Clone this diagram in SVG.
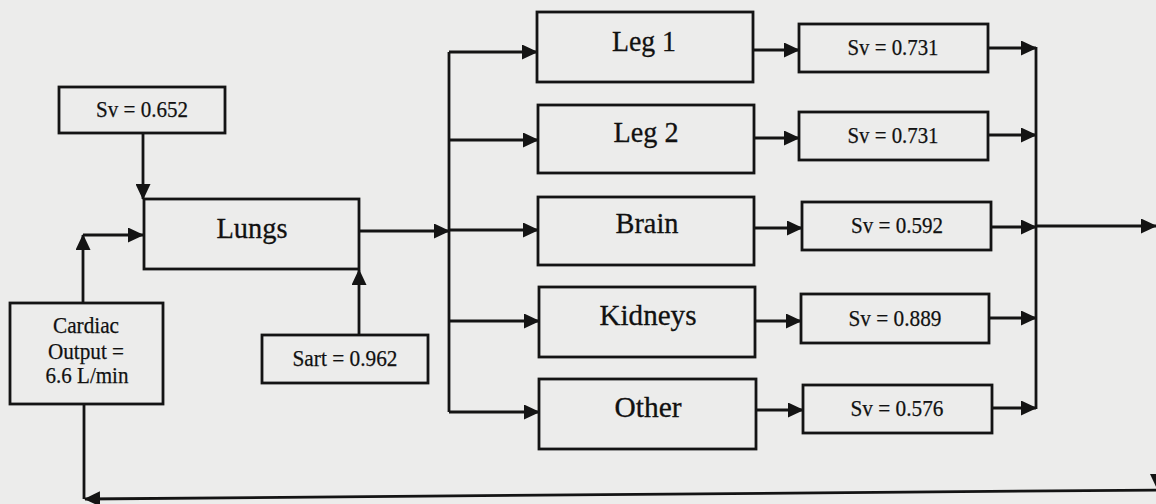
<svg xmlns="http://www.w3.org/2000/svg" width="1156" height="504" viewBox="0 0 1156 504">
  <style>
    .box { fill: none; stroke: #141414; stroke-width: 2.8; }
    .wire { fill: none; stroke: #141414; stroke-width: 2.8; }
    .big { font-family: "Liberation Serif", "Times New Roman", serif; font-size: 29.5px; fill: #111; stroke: #111; stroke-width: 0.3; text-anchor: middle; }
    .small { font-family: "Liberation Serif", "Times New Roman", serif; font-size: 23.5px; fill: #111; stroke: #111; stroke-width: 0.25; text-anchor: middle; }
  </style>
  <defs>
    <marker id="arr" viewBox="0 0 16 15" refX="15" refY="7.5" markerWidth="16" markerHeight="15" orient="auto" markerUnits="userSpaceOnUse">
      <path d="M0,0 L16,7.5 L0,15 z" fill="#141414"/>
    </marker>
  </defs>

  <rect width="1156" height="504" fill="#ececeb"/>

  <!-- flow lines -->
  <g id="connectors">
    <path class="wire" d="M143,133 V199" marker-end="url(#arr)"/>
    <path class="wire" d="M83,303 V235" marker-end="url(#arr)"/>
    <path class="wire" d="M83,235 H143" marker-end="url(#arr)"/>
    <path class="wire" d="M359,335 V270" marker-end="url(#arr)"/>
    <path class="wire" d="M359,231 H449" marker-end="url(#arr)"/>
    <path class="wire" d="M449,52 V412"/>
    <path class="wire" d="M449,52 H537" marker-end="url(#arr)"/>
    <path class="wire" d="M449,140 H538" marker-end="url(#arr)"/>
    <path class="wire" d="M449,230 H538" marker-end="url(#arr)"/>
    <path class="wire" d="M449,321 H539" marker-end="url(#arr)"/>
    <path class="wire" d="M449,412 H539" marker-end="url(#arr)"/>

    <path class="wire" d="M753,50 H799" marker-end="url(#arr)"/>
    <path class="wire" d="M754,138 H799" marker-end="url(#arr)"/>
    <path class="wire" d="M754,228 H802" marker-end="url(#arr)"/>
    <path class="wire" d="M755,321 H801" marker-end="url(#arr)"/>
    <path class="wire" d="M756,410 H803" marker-end="url(#arr)"/>

    <path class="wire" d="M988,48 H1036" marker-end="url(#arr)"/>
    <path class="wire" d="M988,135 H1036" marker-end="url(#arr)"/>
    <path class="wire" d="M991,227 H1036" marker-end="url(#arr)"/>
    <path class="wire" d="M989,318 H1036" marker-end="url(#arr)"/>
    <path class="wire" d="M992,408 H1036" marker-end="url(#arr)"/>
    <path class="wire" d="M1036,47 V409"/>
    <path class="wire" d="M1036,226 H1156" marker-end="url(#arr)"/>

    <!-- return loop to cardiac output -->
    <path class="wire" d="M1157.5,440 V489" marker-end="url(#arr)"/>
    <path class="wire" d="M84,404 V499"/>
    <path class="wire" d="M1160,490 L85,499" marker-end="url(#arr)"/>
  </g>

  <g id="sv-in">
    <rect class="box" x="59" y="87" width="166" height="46"/>
    <text class="small" x="142" y="117" textLength="92" lengthAdjust="spacingAndGlyphs">Sv = 0.652</text>
  </g>
  <g id="lungs">
    <rect class="box" x="144" y="199" width="215" height="70"/>
    <text class="big" x="252" y="238" textLength="71" lengthAdjust="spacingAndGlyphs">Lungs</text>
  </g>
  <g id="cardiac-output">
    <rect class="box" x="10" y="303" width="153" height="101"/>
    <text class="small" x="86" y="333" textLength="66" lengthAdjust="spacingAndGlyphs">Cardiac</text>
    <text class="small" x="86" y="359" textLength="76" lengthAdjust="spacingAndGlyphs">Output =</text>
    <text class="small" x="87" y="383" textLength="83" lengthAdjust="spacingAndGlyphs">6.6 L/min</text>
  </g>
  <g id="sart">
    <rect class="box" x="262" y="335" width="166" height="48"/>
    <text class="small" x="345" y="366" textLength="105" lengthAdjust="spacingAndGlyphs">Sart = 0.962</text>
  </g>

  <g id="leg1">
    <rect class="box" x="537" y="12" width="216" height="70"/>
    <text class="big" x="644" y="51" textLength="64" lengthAdjust="spacingAndGlyphs">Leg 1</text>
  </g>
  <g id="leg2">
    <rect class="box" x="538" y="105" width="216" height="68"/>
    <text class="big" x="646" y="142" textLength="65" lengthAdjust="spacingAndGlyphs">Leg 2</text>
  </g>
  <g id="brain">
    <rect class="box" x="538" y="197" width="216" height="68"/>
    <text class="big" x="647" y="233" textLength="63" lengthAdjust="spacingAndGlyphs">Brain</text>
  </g>
  <g id="kidneys">
    <rect class="box" x="539" y="287" width="216" height="70"/>
    <text class="big" x="648" y="325" textLength="97" lengthAdjust="spacingAndGlyphs">Kidneys</text>
  </g>
  <g id="other">
    <rect class="box" x="539" y="379" width="217" height="70"/>
    <text class="big" x="648" y="417" textLength="67" lengthAdjust="spacingAndGlyphs">Other</text>
  </g>

  <g id="sv-leg1">
    <rect class="box" x="799" y="24" width="189" height="48"/>
    <text class="small" x="893" y="55" textLength="91" lengthAdjust="spacingAndGlyphs">Sv = 0.731</text>
  </g>
  <g id="sv-leg2">
    <rect class="box" x="799" y="112" width="189" height="48"/>
    <text class="small" x="893" y="143" textLength="91" lengthAdjust="spacingAndGlyphs">Sv = 0.731</text>
  </g>
  <g id="sv-brain">
    <rect class="box" x="802" y="202" width="189" height="48"/>
    <text class="small" x="897" y="233" textLength="92" lengthAdjust="spacingAndGlyphs">Sv = 0.592</text>
  </g>
  <g id="sv-kidneys">
    <rect class="box" x="801" y="294" width="188" height="49"/>
    <text class="small" x="895" y="326" textLength="93" lengthAdjust="spacingAndGlyphs">Sv = 0.889</text>
  </g>
  <g id="sv-other">
    <rect class="box" x="803" y="385" width="189" height="48"/>
    <text class="small" x="897" y="416" textLength="93" lengthAdjust="spacingAndGlyphs">Sv = 0.576</text>
  </g>
</svg>
